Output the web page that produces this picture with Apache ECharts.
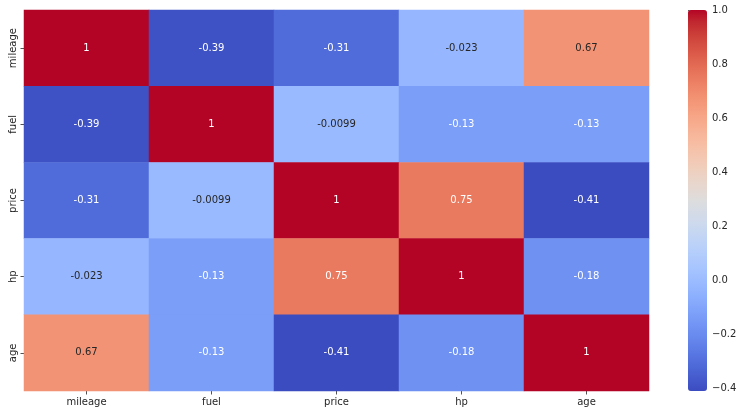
<!DOCTYPE html>
<html>
<head>
<meta charset="utf-8">
<script src="https://cdn.jsdelivr.net/npm/echarts@6/dist/echarts.min.js"></script>
<style>
  html, body { margin: 0; padding: 0; background: #fff; }
  #chart { width: 745px; height: 415px; }
</style>
</head>
<body>
<div id="chart"></div>
<script>
// category names, top row first
const labels = ['mileage', 'fuel', 'price', 'hp', 'age'];

// correlation matrix rows, as annotated in the picture
const rowMileage = [1, -0.39, -0.31, -0.023, 0.67];
const rowFuel = [-0.39, 1, -0.0099, -0.13, -0.13];
const rowPrice = [-0.31, -0.0099, 1, 0.75, -0.41];
const rowHp = [-0.023, -0.13, 0.75, 1, -0.18];
const rowAge = [0.67, -0.13, -0.41, -0.18, 1];
const matrix = [rowMileage, rowFuel, rowPrice, rowHp, rowAge];

// colour bar range and tick labels
const vMin = -0.41;
const vMax = 1;
const barTicks = [-0.4, -0.2, 0, 0.2, 0.4, 0.6, 0.8, 1.0];

// coolwarm colormap stops
const coolwarm = [
  [59,76,192],[68,90,204],[77,104,215],[87,117,225],[98,130,234],[108,142,241],
  [119,154,247],[130,165,251],[141,176,254],[152,185,255],[163,194,255],[174,201,253],
  [184,208,249],[194,213,244],[204,217,238],[213,219,230],[221,221,221],[229,216,209],
  [236,211,197],[241,204,185],[245,196,173],[247,187,160],[247,177,148],[247,166,135],
  [244,154,123],[241,141,111],[236,127,99],[229,112,88],[222,96,77],[213,80,66],
  [203,62,56],[192,40,47],[180,4,38]
];
const cssColors = coolwarm.map(c => 'rgb(' + c.join(',') + ')');

function colorAt(v) {
  let t = (v - vMin) / (vMax - vMin);
  t = Math.max(0, Math.min(1, t)) * (coolwarm.length - 1);
  const i = Math.min(Math.floor(t), coolwarm.length - 2);
  const f = t - i;
  return coolwarm[i].map((a, k) => a + (coolwarm[i + 1][k] - a) * f);
}

// seaborn picks dark text on light cells
function textColor(v) {
  const lin = colorAt(v).map(c => {
    c = c / 255;
    return c <= 0.03928 ? c / 12.92 : Math.pow((c + 0.055) / 1.055, 2.4);
  });
  const lum = 0.2126 * lin[0] + 0.7152 * lin[1] + 0.0722 * lin[2];
  return lum > 0.408 ? '#262626' : '#ffffff';
}

const cells = [];
for (let r = 0; r < matrix.length; r++) {
  for (let c = 0; c < matrix[r].length; c++) {
    const v = matrix[r][c];
    cells.push({ value: [c, r, v], label: { color: textColor(v) } });
  }
}

const font = 'DejaVu Sans';
const chart = echarts.init(document.getElementById('chart'));
chart.setOption({
  animation: false,
  textStyle: { fontFamily: font },
  grid: [
    { left: 24, top: 10, width: 625, height: 381 },
    { left: 688, top: 10, width: 19, height: 381 }
  ],
  xAxis: [
    {
      type: 'category', data: labels, gridIndex: 0,
      axisLine: { show: false },
      axisTick: { show: true, alignWithLabel: true, length: 3.5, lineStyle: { color: '#262626', width: 0.8 } },
      axisLabel: { color: '#262626', fontSize: 10, fontFamily: font, margin: 6 },
      splitArea: { show: false }
    },
    { type: 'value', gridIndex: 1, show: false, min: 0, max: 1 }
  ],
  yAxis: [
    {
      type: 'category', data: labels, gridIndex: 0, inverse: true,
      axisLine: { show: false },
      axisTick: { show: true, alignWithLabel: true, length: 3.5, lineStyle: { color: '#262626', width: 0.8 } },
      axisLabel: { color: '#262626', fontSize: 10, fontFamily: font, rotate: 90, margin: 6 },
      splitArea: { show: false }
    },
    {
      type: 'value', gridIndex: 1, position: 'right', min: vMin, max: vMax,
      axisLine: { show: false },
      splitLine: { show: false },
      axisTick: { show: true, length: 3.5, customValues: barTicks, lineStyle: { color: '#262626', width: 0.8 } },
      axisLabel: {
        color: '#262626', fontSize: 10, fontFamily: font, margin: 5,
        customValues: barTicks,
        formatter: v => v.toFixed(1).replace('-', '\u2212')
      }
    }
  ],
  visualMap: {
    type: 'continuous',
    min: vMin, max: vMax,
    seriesIndex: 0, dimension: 2,
    calculable: false,
    orient: 'vertical',
    left: 688, top: 10,
    itemWidth: 19, itemHeight: 381,
    padding: 0,
    text: null,
    hoverLink: false,
    inRange: { color: cssColors }
  },
  series: [{
    type: 'heatmap',
    xAxisIndex: 0, yAxisIndex: 0,
    data: cells,
    label: {
      show: true, fontSize: 10, fontFamily: font,
      formatter: p => String(p.value[2])
    },
    itemStyle: { borderWidth: 0 },
    emphasis: { disabled: true }
  }]
});
</script>
</body>
</html>
